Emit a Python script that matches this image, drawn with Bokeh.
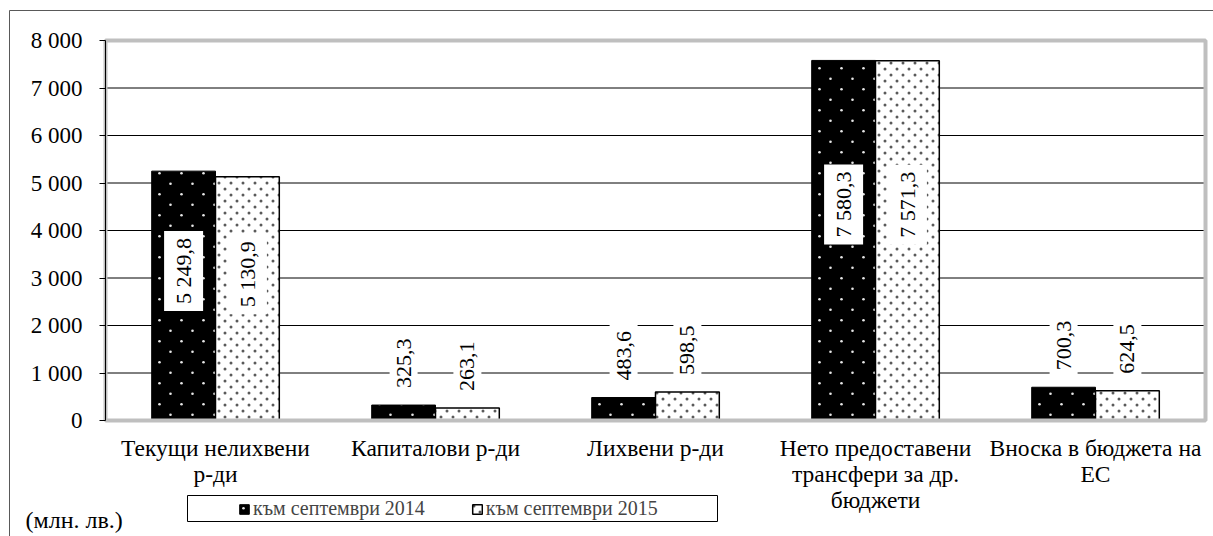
import math
import base64
from bokeh.plotting import figure
from bokeh.models import (ColumnDataSource, FixedTicker, Legend, LegendItem, Label,
                          BoxAnnotation, Range1d, ImageURLTexture)
from bokeh.transform import dodge
from bokeh.core.properties import value
from bokeh.embed import file_html
from bokeh.resources import INLINE

# ---- data ----
categories = ["Текущи нелихвени\nр-ди", "Капиталови р-ди", "Лихвени р-ди",
              "Нето предоставени\nтрансфери за др.\nбюджети", "Вноска в бюджета на\nЕС"]
sep2014 = [5249.8, 325.3, 483.6, 7580.3, 700.3]
sep2015 = [5130.9, 263.1, 598.5, 7571.3, 624.5]
series_names = ["към септември 2014", "към септември 2015"]
y_ticks = [0, 1000, 2000, 3000, 4000, 5000, 6000, 7000, 8000]
y_tick_labels = ["0", "1 000", "2 000", "3 000", "4 000", "5 000", "6 000", "7 000", "8 000"]
unit_label = "(млн. лв.)"

FONT = "Liberation Serif"

# ---- layout (pixels) ----
W, H = 1213, 536
PL, PR, PT, PB = 105, 1205, 40, 420          # plot area edges on the canvas
YMIN, YMAX = y_ticks[0], y_ticks[-1]
NCAT = len(categories)
xu = (PR - PL) / NCAT                          # px per category
yu = (PB - PT) / (YMAX - YMIN)                 # px per value unit


def fmt(v):
    return f"{v:,.1f}".replace(",", " ").replace(".", ",")


def dot_tile(w, h, r, color):
    svg = (f"<svg xmlns='http://www.w3.org/2000/svg' width='{w}' height='{h}'>"
           f"<circle cx='{w / 4}' cy='{h / 4}' r='{r}' fill='{color}'/>"
           f"<circle cx='{3 * w / 4}' cy='{3 * h / 4}' r='{r}' fill='{color}'/></svg>")
    return ImageURLTexture(url="data:image/svg+xml;base64," + base64.b64encode(svg.encode()).decode())


p = figure(x_range=Range1d(-PL / xu, NCAT + (W - PR) / xu),
           y_range=Range1d(YMIN - (H - PB) / yu, YMAX + PT / yu),
           width=W, height=H, output_backend="svg", toolbar_location=None,
           min_border=0)
p.background_fill_color = "white"
p.border_fill_color = "white"
p.outline_line_color = None
p.xgrid.visible = False
p.ygrid.visible = False

dots_light = dot_tile(22, 21, 1.3, "#e6e6e6")
dots_dark = dot_tile(12, 12, 1.5, "#5a5a5a")

xc = [i + 0.5 for i in range(NCAT)]

# grid lines inside the plot area
p.segment(x0=0, x1=NCAT, y0=y_ticks, y1=y_ticks, line_color="black", line_width=1)

src = ColumnDataSource(dict(x=xc, v14=sep2014, v15=sep2015))
r14 = p.vbar(x=dodge("x", -0.145), top="v14", width=0.29, source=src,
             fill_color="black", line_color="black", line_width=1,
             hatch_pattern=value("dl"), hatch_extra={"dl": dots_light})
r15 = p.vbar(x=dodge("x", 0.145), top="v15", width=0.29, source=src,
             fill_color="white", line_color="black", line_width=1.5,
             hatch_pattern=value("dd"), hatch_extra={"dd": dots_dark})

for vals, off in ((sep2014, -0.145), (sep2015, 0.145)):
    inside = [i for i, v in enumerate(vals) if v >= 2000]
    above = [i for i, v in enumerate(vals) if v < 2000]
    s_in = ColumnDataSource(dict(x=[xc[i] for i in inside],
                                 y=[vals[i] * 0.6 for i in inside],
                                 t=[fmt(vals[i]) for i in inside]))
    s_ab = ColumnDataSource(dict(x=[xc[i] for i in above],
                                 y=[vals[i] for i in above],
                                 t=[fmt(vals[i]) for i in above]))
    p.text(x=dodge("x", off), y="y", text="t", source=s_in,
           angle=math.pi / 2, text_align="center", text_baseline="middle",
           text_font=value(FONT), text_font_size="22px", text_color="black",
           background_fill_color="white", padding=7)
    p.text(x=dodge("x", off), y="y", text="t", source=s_ab,
           angle=math.pi / 2, text_align="left", text_baseline="middle", y_offset=-10,
           text_font=value(FONT), text_font_size="22px", text_color="black",
           background_fill_color="white", padding=7)

# gray frame of the plot area
p.quad(left=0, right=NCAT, bottom=YMIN, top=YMAX, fill_color=None,
       line_color="#BFBFBF", line_width=4)

# axes (drawn at fixed locations inside the canvas)
p.yaxis.fixed_location = 0
p.yaxis.bounds = (YMIN, YMAX)
p.yaxis.ticker = FixedTicker(ticks=y_ticks)
p.yaxis.major_label_overrides = dict(zip(y_ticks, y_tick_labels))
p.yaxis.major_label_text_font = FONT
p.yaxis.major_label_text_font_size = "23px"
p.yaxis.major_label_text_color = "black"
p.yaxis.axis_line_color = "black"
p.yaxis.major_tick_line_color = "black"
p.yaxis.major_tick_out = 6
p.yaxis.major_tick_in = 0
p.yaxis.minor_tick_line_color = None
p.yaxis.major_label_standoff = 17

p.xaxis.fixed_location = YMIN
p.xaxis.ticker = FixedTicker(ticks=xc)
p.xaxis.major_label_overrides = dict(zip(xc, categories))
p.xaxis.axis_line_color = None
p.xaxis.major_tick_line_color = None
p.xaxis.minor_tick_line_color = None
p.xaxis.major_label_text_font = FONT
p.xaxis.major_label_text_font_size = "23.5px"
p.xaxis.major_label_text_line_height = 1.0
p.xaxis.major_label_text_color = "black"
p.xaxis.major_label_standoff = 8

# legend
legend = Legend(items=[LegendItem(label=series_names[0], renderers=[r14]),
                       LegendItem(label=series_names[1], renderers=[r15])],
                orientation="horizontal", location=(238, 16), padding=4, spacing=46,
                glyph_width=12, glyph_height=12, label_standoff=3,
                label_text_font=FONT, label_text_font_size="20px",
                border_line_color=None, background_fill_alpha=0)
p.add_layout(legend, "center")
p.add_layout(BoxAnnotation(left=187, right=717, bottom=H - 521, top=H - 495,
                           left_units="screen", right_units="screen",
                           bottom_units="screen", top_units="screen",
                           fill_alpha=0, line_color="black", line_width=1, line_alpha=1))
p.add_layout(Label(x=25, y=H - 519, x_units="screen", y_units="screen", text=unit_label,
                   text_baseline="middle", text_font=FONT, text_font_size="24px",
                   text_color="black"))
# outer chart border
p.add_layout(BoxAnnotation(left=9, right=W + 20, bottom=-20, top=H - 10,
                           left_units="screen", right_units="screen",
                           bottom_units="screen", top_units="screen",
                           fill_alpha=0, line_color="#595959", line_width=1, line_alpha=1))

open("out.html", "w").write(file_html(p, INLINE))
